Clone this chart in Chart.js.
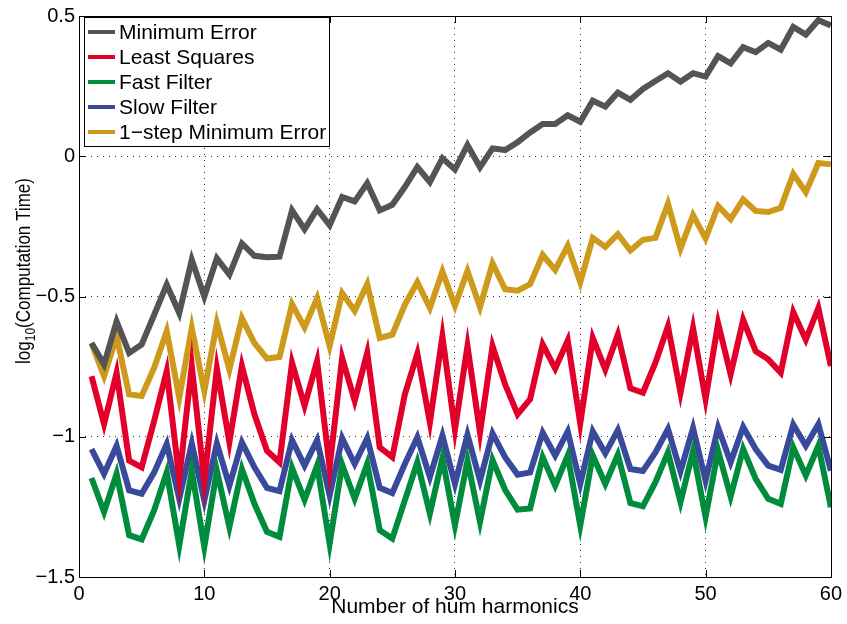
<!DOCTYPE html>
<html>
<head>
<meta charset="utf-8">
<script src="https://cdn.jsdelivr.net/npm/chart.js@4/dist/chart.umd.min.js"></script>
<style>
html,body{margin:0;padding:0;background:#fff;}
#wrap{width:847px;height:624px;position:relative;}
canvas{display:block;}
</style>
</head>
<body>
<div id="wrap"><canvas id="c" width="847" height="624"></canvas></div>
<script>
// ---- data ----
const harmonics = Array.from({length: 60}, (_, i) => i + 1);
const seriesNames = ["Minimum Error", "Least Squares", "Fast Filter", "Slow Filter", "1\u2212step Minimum Error"];
const minimumError = [-0.666,-0.742,-0.589,-0.701,-0.671,-0.565,-0.458,-0.559,-0.369,-0.500,
  -0.364,-0.422,-0.311,-0.355,-0.360,-0.358,-0.193,-0.260,-0.189,-0.246,
  -0.145,-0.161,-0.096,-0.193,-0.173,-0.110,-0.039,-0.092,-0.007,-0.047,
  0.040,-0.039,0.028,0.022,0.050,0.085,0.115,0.115,0.146,0.123,
  0.198,0.177,0.227,0.201,0.240,0.268,0.296,0.266,0.296,0.284,
  0.357,0.331,0.389,0.371,0.404,0.380,0.461,0.434,0.485,0.466];
const leastSquares = [-0.784,-0.955,-0.772,-1.085,-1.109,-0.943,-0.766,-1.150,-0.748,-1.156,
  -0.757,-1.020,-0.748,-0.920,-1.050,-1.091,-0.736,-0.890,-0.730,-1.109,
  -0.719,-0.872,-0.701,-1.038,-1.073,-0.849,-0.704,-0.949,-0.642,-0.975,
  -0.677,-0.985,-0.677,-0.813,-0.920,-0.866,-0.671,-0.757,-0.657,-0.953,
  -0.648,-0.760,-0.636,-0.827,-0.843,-0.736,-0.606,-0.843,-0.612,-0.866,
  -0.595,-0.778,-0.583,-0.695,-0.724,-0.772,-0.556,-0.654,-0.541,-0.748];
const fastFilter = [-1.147,-1.268,-1.132,-1.351,-1.366,-1.262,-1.127,-1.387,-1.121,-1.392,
  -1.121,-1.322,-1.115,-1.239,-1.339,-1.357,-1.111,-1.225,-1.103,-1.381,
  -1.099,-1.221,-1.097,-1.333,-1.363,-1.227,-1.091,-1.274,-1.076,-1.316,
  -1.085,-1.304,-1.083,-1.189,-1.260,-1.256,-1.073,-1.174,-1.067,-1.316,
  -1.067,-1.168,-1.064,-1.236,-1.248,-1.162,-1.056,-1.233,-1.052,-1.286,
  -1.050,-1.213,-1.044,-1.150,-1.221,-1.239,-1.038,-1.138,-1.032,-1.251];
const slowFilter = [-1.044,-1.132,-1.032,-1.191,-1.203,-1.127,-1.026,-1.221,-1.024,-1.227,
  -1.024,-1.174,-1.020,-1.109,-1.182,-1.194,-1.012,-1.103,-1.012,-1.209,
  -1.005,-1.097,-1.005,-1.182,-1.201,-1.097,-1.002,-1.144,-0.996,-1.168,
  -0.993,-1.156,-0.988,-1.073,-1.135,-1.127,-0.985,-1.067,-0.981,-1.168,
  -0.981,-1.059,-0.976,-1.115,-1.122,-1.056,-0.973,-1.123,-0.969,-1.156,
  -0.967,-1.091,-0.965,-1.044,-1.103,-1.118,-0.957,-1.032,-0.955,-1.121];
const oneStepMinimumError = [-0.666,-0.784,-0.642,-0.849,-0.855,-0.754,-0.624,-0.861,-0.612,-0.837,
  -0.595,-0.760,-0.577,-0.666,-0.721,-0.716,-0.527,-0.610,-0.506,-0.677,
  -0.488,-0.551,-0.456,-0.648,-0.636,-0.530,-0.449,-0.541,-0.411,-0.533,
  -0.409,-0.538,-0.382,-0.474,-0.479,-0.456,-0.352,-0.405,-0.319,-0.449,
  -0.291,-0.323,-0.278,-0.336,-0.298,-0.291,-0.169,-0.329,-0.210,-0.293,
  -0.177,-0.224,-0.154,-0.195,-0.199,-0.184,-0.063,-0.128,-0.024,-0.029];
const xTicks = [0, 10, 20, 30, 40, 50, 60];
const yTicks = [-1.5, -1, -0.5, 0, 0.5];
const xTitle = "Number of hum harmonics";
const yTitleMain = "log", yTitleSub = "10", yTitleRest = "(Computation Time)";

// ---- styles ----
const colors = ["#545454", "#e2002b", "#008c3c", "#39499b", "#cd9a1c"];
const FONT = '"Liberation Sans", Arial, Helvetica, sans-serif';
const seriesValues = [minimumError, leastSquares, fastFilter, slowFilter, oneStepMinimumError];

function fmt(v) {
  const r = Math.round(v * 10) / 10;
  if (r === 0) return "0";
  const s = String(Math.abs(r));
  return (r < 0 ? "\u2212" : "") + s;
}

const datasets = seriesValues.map((vals, i) => ({
  label: seriesNames[i],
  data: harmonics.map((h, j) => ({x: h, y: vals[j]})),
  borderColor: colors[i],
  backgroundColor: colors[i],
  borderWidth: 6,
  pointRadius: 0,
  tension: 0,
  fill: false,
  borderJoinStyle: "miter"
}));

const framePlugin = {
  id: "frame",
  afterDatasetsDraw(chart) {
    const ctx = chart.ctx, a = chart.chartArea;
    const xs = chart.scales.x, ys = chart.scales.y;
    ctx.save();
    // box
    ctx.strokeStyle = "#000";
    ctx.lineWidth = 1;
    ctx.strokeRect(Math.round(a.left) + 0.5, Math.round(a.top) + 0.5,
      Math.round(a.right - a.left), Math.round(a.bottom - a.top));
    // inward ticks
    const tl = 7;
    ctx.beginPath();
    xTicks.forEach(v => {
      const px = Math.round(xs.getPixelForValue(v)) + 0.5;
      ctx.moveTo(px, a.bottom); ctx.lineTo(px, a.bottom - tl);
      ctx.moveTo(px, a.top); ctx.lineTo(px, a.top + tl);
    });
    yTicks.forEach(v => {
      const py = Math.round(ys.getPixelForValue(v)) + 0.5;
      ctx.moveTo(a.left, py); ctx.lineTo(a.left + tl, py);
      ctx.moveTo(a.right, py); ctx.lineTo(a.right - tl, py);
    });
    ctx.stroke();

    // legend
    const lx = 84, ly = 17, lw = 245, lh = 129;
    ctx.fillStyle = "#fff";
    ctx.fillRect(lx, ly, lw, lh);
    ctx.strokeStyle = "#000";
    ctx.lineWidth = 1;
    ctx.strokeRect(lx + 0.5, ly + 0.5, lw, lh);
    ctx.font = "21px " + FONT;
    ctx.textBaseline = "middle";
    ctx.textAlign = "left";
    chart.data.datasets.forEach((ds, i) => {
      const y = 32 + i * 25;
      ctx.strokeStyle = ds.borderColor;
      ctx.lineWidth = 4;
      ctx.beginPath();
      ctx.moveTo(88, y); ctx.lineTo(115, y);
      ctx.stroke();
      ctx.fillStyle = "#000";
      ctx.fillText(ds.label, 119, y + 1);
    });

    // y axis title with subscript
    const fMain = "20px " + FONT, fSub = "14px " + FONT;
    ctx.font = fMain;
    const w1 = ctx.measureText(yTitleMain).width;
    const w3 = ctx.measureText(yTitleRest).width;
    ctx.font = fSub;
    const w2 = ctx.measureText(yTitleSub).width;
    const total = w1 + w2 + w3;
    const sx = 186 / total;
    ctx.translate(30, 271);
    ctx.rotate(-Math.PI / 2);
    ctx.scale(sx, 1);
    ctx.fillStyle = "#000";
    ctx.textBaseline = "alphabetic";
    let x0 = -total / 2;
    ctx.font = fMain; ctx.fillText(yTitleMain, x0, 0); x0 += w1;
    ctx.font = fSub; ctx.fillText(yTitleSub, x0, 5); x0 += w2;
    ctx.font = fMain; ctx.fillText(yTitleRest, x0, 0);
    ctx.restore();
  }
};

new Chart(document.getElementById("c"), {
  type: "line",
  data: {datasets},
  options: {
    responsive: false,
    animation: false,
    devicePixelRatio: 1,
    layout: {padding: {left: 0, top: 13, right: 13, bottom: 0}},
    plugins: {legend: {display: false}, tooltip: {enabled: false}},
    scales: {
      x: {
        type: "linear", min: 0, max: 60,
        afterFit: s => { s.height = 47; },
        afterBuildTicks: s => { s.ticks = xTicks.map(v => ({value: v})); },
        ticks: {color: "#000", font: {family: FONT, size: 20}, padding: 5, maxRotation: 0,
          callback: v => String(v)},
        grid: {color: c => (c.tick && (c.tick.value === 0 || c.tick.value === 60)) ? "rgba(0,0,0,0)" : "#333",
          lineWidth: 1, drawTicks: false},
        border: {display: false, dash: [1, 5]},
        title: {display: true, text: xTitle, color: "#000", font: {family: FONT, size: 21}, padding: {top: 0, bottom: 4}}
      },
      y: {
        type: "linear", min: -1.5, max: 0.5,
        afterFit: s => { s.width = 79; },
        afterBuildTicks: s => { s.ticks = yTicks.map(v => ({value: v})); },
        ticks: {color: "#000", font: {family: FONT, size: 20}, padding: 4, callback: v => fmt(v)},
        grid: {color: c => (c.tick && (Math.abs(c.tick.value + 1.5) < 1e-9 || Math.abs(c.tick.value - 0.5) < 1e-9)) ? "rgba(0,0,0,0)" : "#333",
          lineWidth: 1, drawTicks: false},
        border: {display: false, dash: [1, 5]}
      }
    }
  },
  plugins: [framePlugin]
});
</script>
</body>
</html>
